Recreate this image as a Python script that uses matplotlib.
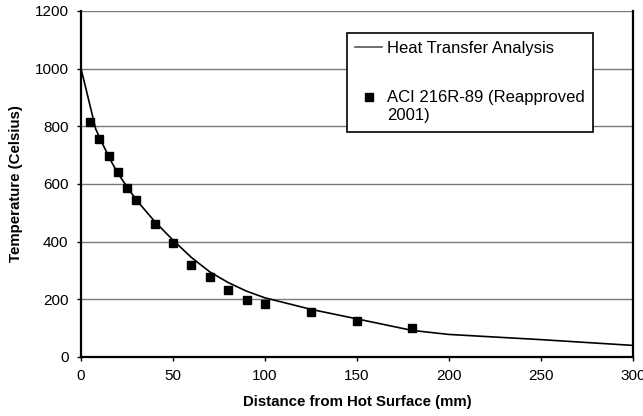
import numpy as np
import matplotlib.pyplot as plt

# heat transfer analysis curve
hta_x = [0, 4, 8, 12, 16, 20, 25, 30, 40, 50, 60, 70, 80, 90, 100, 125, 150, 180, 200, 250, 300]
hta_y = [1000, 895, 790, 735, 683, 637, 590, 545, 470, 405, 345, 295, 258, 228, 205, 165, 132, 92, 78, 60, 40]

# ACI 216R-89 points
aci_x = [5, 10, 15, 20, 25, 30, 40, 50, 60, 70, 80, 90, 100, 125, 150, 180]
aci_y = [815, 755, 695, 640, 585, 545, 462, 395, 320, 278, 232, 198, 185, 155, 125, 100]

x_ticks = [0, 50, 100, 150, 200, 250, 300]
y_ticks = [0, 200, 400, 600, 800, 1000, 1200]

plt.rcParams['font.family'] = ['Liberation Sans', 'DejaVu Sans']

fig = plt.figure(figsize=(6.43, 4.16), dpi=100)
ax = fig.add_axes([0.126, 0.142, 0.858, 0.832])

for yv in y_ticks[1:]:
    ax.axhline(yv, color='#7a7a7a', lw=1.0, zorder=1)

ax.plot(hta_x, hta_y, color='black', lw=1.2, zorder=3, label='Heat Transfer Analysis')
ax.plot(aci_x, aci_y, 's', color='black', ms=6, zorder=4, label='ACI 216R-89 (Reapproved\n2001)')

ax.set_xlim(0, 300)
ax.set_ylim(0, 1200)
ax.set_xticks(x_ticks)
ax.set_yticks(y_ticks)
ax.tick_params(axis='both', labelsize=11, direction='out', length=3, width=1, pad=6)

for side in ['left', 'bottom', 'right']:
    ax.spines[side].set_linewidth(1.6)
ax.spines['top'].set_visible(False)

ax.set_xlabel('Distance from Hot Surface (mm)', fontsize=10.8, fontweight='bold', labelpad=8)
ax.set_ylabel('Temperature (Celsius)', fontsize=10.8, fontweight='bold', labelpad=8)

leg = ax.legend(loc='upper left', bbox_to_anchor=(0.482, 0.936), fontsize=12,
                frameon=True, fancybox=False, edgecolor='black', framealpha=1,
                handlelength=1.6, labelspacing=2.0, borderpad=0.5, borderaxespad=0,
                handletextpad=0.3)
leg.get_frame().set_linewidth(1.2)
leg.get_lines()[0].set_color('#555555')
for t in leg.get_texts():
    t.set_linespacing(1.3)

# marker sits next to the first line of the two-line label
mk = leg.legend_handles[1]
mk.set_ydata(np.asarray(mk.get_ydata()) + 7)

fig.savefig('out.png', dpi=100)
